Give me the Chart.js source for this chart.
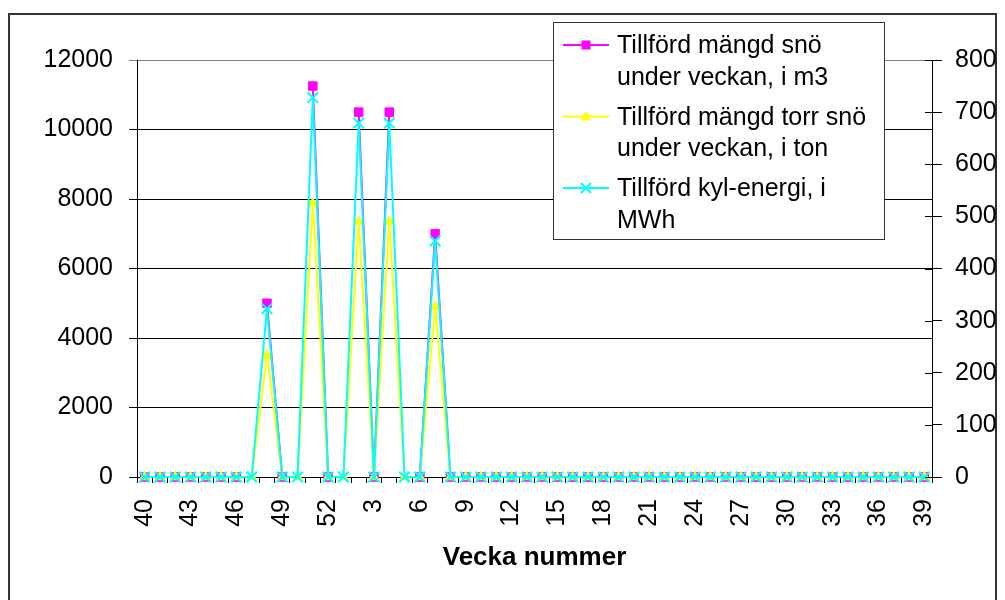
<!DOCTYPE html>
<html><head><meta charset="utf-8">
<script src="https://cdn.jsdelivr.net/npm/chart.js"></script>
<style>html,body{margin:0;padding:0;background:#fff}#wrap{width:1005px;height:600px;position:relative}</style>
</head><body><div id="wrap"><canvas id="c" width="1005" height="600"></canvas></div>
<script>
// ---- data ----
const weeks = ['40','41','42','43','44','45','46','47','48','49','50','51','52',
  '1','2','3','4','5','6','7','8','9','10','11','12','13','14','15','16','17','18','19','20',
  '21','22','23','24','25','26','27','28','29','30','31','32','33','34','35','36','37','38','39'];
const snowM3 = [0,0,0,0,0,0,0,null,5000,0,null,11250,0,
  null,10500,0,10500,null,0,7000,0,0,0,0,0,0,0,0,0,0,0,0,0,
  0,0,0,0,0,0,0,0,0,0,0,0,0,0,0,0,0,0,0];
const drySnowTon = [0,0,0,0,0,0,0,0,3500,0,0,7875,0,
  0,7350,0,7350,0,0,4900,0,0,0,0,0,0,0,0,0,0,0,0,0,
  0,0,0,0,0,0,0,0,0,0,0,0,0,0,0,0,0,0,0];
const coolMWh = [0,0,0,0,0,0,0,0,323,0,0,728,0,
  0,679,0,679,0,0,453,0,0,0,0,0,0,0,0,0,0,0,0,0,
  0,0,0,0,0,0,0,0,0,0,0,0,0,0,0,0,0,0,0];
const seriesNames = [
  ['Tillförd mängd snö', 'under veckan, i m3'],
  ['Tillförd mängd torr snö', 'under veckan, i ton'],
  ['Tillförd kyl-energi, i', 'MWh']
];
const leftAxis = {min: 0, max: 12000, step: 2000};
const rightAxis = {min: 0, max: 800, step: 100};
const xTitle = 'Vecka nummer';

const FONT = "'Liberation Sans', Arial, sans-serif";
Chart.defaults.font.family = FONT;
Chart.defaults.font.size = 25;
Chart.defaults.color = '#000';

const PLOT = {left: 137, right: 932, top: 60, bottom: 477};

const framePlugin = {
  id: 'frame',
  beforeDraw(chart) {
    const ctx = chart.ctx;
    ctx.save();
    ctx.fillStyle = '#fff';
    ctx.fillRect(0, 0, chart.width, chart.height);
    ctx.strokeStyle = '#333';
    ctx.lineWidth = 2;
    ctx.strokeRect(9, 14, 987, 600);
    ctx.restore();
  }
};

function drawMarker(ctx, style, x, y, color) {
  ctx.save();
  ctx.fillStyle = color; ctx.strokeStyle = color;
  if (style === 'rect') {
    ctx.fillRect(x - 4.5, y - 4.5, 9, 9);
  } else if (style === 'triangle') {
    ctx.beginPath();
    ctx.moveTo(x, y - 6); ctx.lineTo(x + 5, y + 4); ctx.lineTo(x - 5, y + 4);
    ctx.closePath(); ctx.fill();
  } else {
    ctx.lineWidth = 2;
    ctx.beginPath();
    ctx.moveTo(x - 5, y - 5); ctx.lineTo(x + 5, y + 5);
    ctx.moveTo(x + 5, y - 5); ctx.lineTo(x - 5, y + 5);
    ctx.stroke();
  }
  ctx.restore();
}

const extrasPlugin = {
  id: 'extras',
  afterDraw(chart) {
    const ctx = chart.ctx;
    // inner tick marks on right axis
    const y1 = chart.scales.y1;
    ctx.save();
    ctx.strokeStyle = '#000'; ctx.lineWidth = 1;
    y1.ticks.forEach(t => {
      const py = Math.round(y1.getPixelForValue(t.value)) + 0.5;
      ctx.beginPath(); ctx.moveTo(y1.left - 7, py); ctx.lineTo(y1.left, py); ctx.stroke();
    });
    ctx.restore();
    // legend
    const bx = 553.5, by = 22.5, bw = 331, bh = 217;
    ctx.save();
    ctx.fillStyle = '#fff';
    ctx.fillRect(bx, by, bw, bh);
    ctx.strokeStyle = '#333'; ctx.lineWidth = 1;
    ctx.strokeRect(bx, by, bw, bh);
    ctx.font = '25px ' + FONT;
    ctx.fillStyle = '#000';
    ctx.textBaseline = 'alphabetic';
    const ds = chart.data.datasets;
    [0, 1, 2].forEach((i, k) => {
      const d = ds[i];
      const base = 53 + k * 71.5;
      const my = base - 8;
      ctx.strokeStyle = d.borderColor; ctx.lineWidth = 2;
      ctx.beginPath(); ctx.moveTo(563, my); ctx.lineTo(609, my); ctx.stroke();
      drawMarker(ctx, d.pointStyle, 586, my, d.borderColor);
      ctx.fillStyle = '#000';
      seriesNames[i].forEach((ln, j) => ctx.fillText(ln, 617, base + j * 31.5));
    });
    ctx.restore();
  }
};

new Chart(document.getElementById('c'), {
  type: 'line',
  data: {
    labels: weeks,
    datasets: [
      {label: seriesNames[0].join(' '), data: snowM3, yAxisID: 'y', order: 3,
       borderColor: '#FF00FF', backgroundColor: '#FF00FF', borderWidth: 2,
       pointStyle: 'rect', pointRadius: 6, pointBorderWidth: 1, spanGaps: false, clip: false, tension: 0},
      {label: seriesNames[1].join(' '), data: drySnowTon, yAxisID: 'y', order: 2,
       borderColor: '#FFFF00', backgroundColor: '#FFFF00', borderWidth: 2,
       pointStyle: 'triangle', pointRadius: 5.5, pointBorderWidth: 1, clip: false, tension: 0},
      {label: seriesNames[2].join(' '), data: coolMWh, yAxisID: 'y1', order: 1,
       borderColor: '#00FFFF', backgroundColor: '#00FFFF', borderWidth: 2,
       pointStyle: 'crossRot', pointRadius: 7.5, pointBorderWidth: 2, clip: false, tension: 0}
    ]
  },
  options: {
    responsive: false,
    animation: false,
    events: [],
    layout: {padding: {left: 8, right: 8, top: PLOT.top, bottom: 0}},
    plugins: {legend: {display: false}, tooltip: {enabled: false}, title: {display: false}},
    scales: {
      x: {
        type: 'category',
        offset: true,
        grid: {offset: true, drawOnChartArea: false, drawTicks: true, tickLength: 6, color: '#000', lineWidth: 1},
        border: {color: '#000', width: 1},
        ticks: {autoSkip: false, maxRotation: 90, minRotation: 90, padding: 16, color: '#000',
          font: {size: 25},
          callback: (v, i) => (i % 3 === 0 ? weeks[i] : '')},
        title: {display: true, text: xTitle, color: '#000', font: {size: 26, weight: 'bold'}, padding: {top: 0, bottom: 27}},
        afterFit: s => { s.height = 600 - PLOT.bottom; }
      },
      y: {
        position: 'left',
        min: leftAxis.min, max: leftAxis.max,
        grid: {drawTicks: true, tickLength: 8,
          color: c => (c.tick && c.tick.value === leftAxis.max ? '#808080' : '#000'), lineWidth: 1},
        border: {color: '#000', width: 1},
        ticks: {stepSize: leftAxis.step, padding: 16, color: '#000', font: {size: 25},
          callback: v => String(v)},
        afterFit: s => { s.width = PLOT.left - 8; }
      },
      y1: {
        position: 'right',
        min: rightAxis.min, max: rightAxis.max,
        grid: {drawOnChartArea: false, drawTicks: true, tickLength: 10, color: '#000', lineWidth: 1},
        border: {color: '#000', width: 1},
        ticks: {stepSize: rightAxis.step, padding: 13, color: '#000', font: {size: 25},
          callback: v => String(v)},
        afterFit: s => { s.width = 1005 - 8 - PLOT.right; }
      }
    }
  },
  plugins: [framePlugin, extrasPlugin]
});
</script></body></html>
